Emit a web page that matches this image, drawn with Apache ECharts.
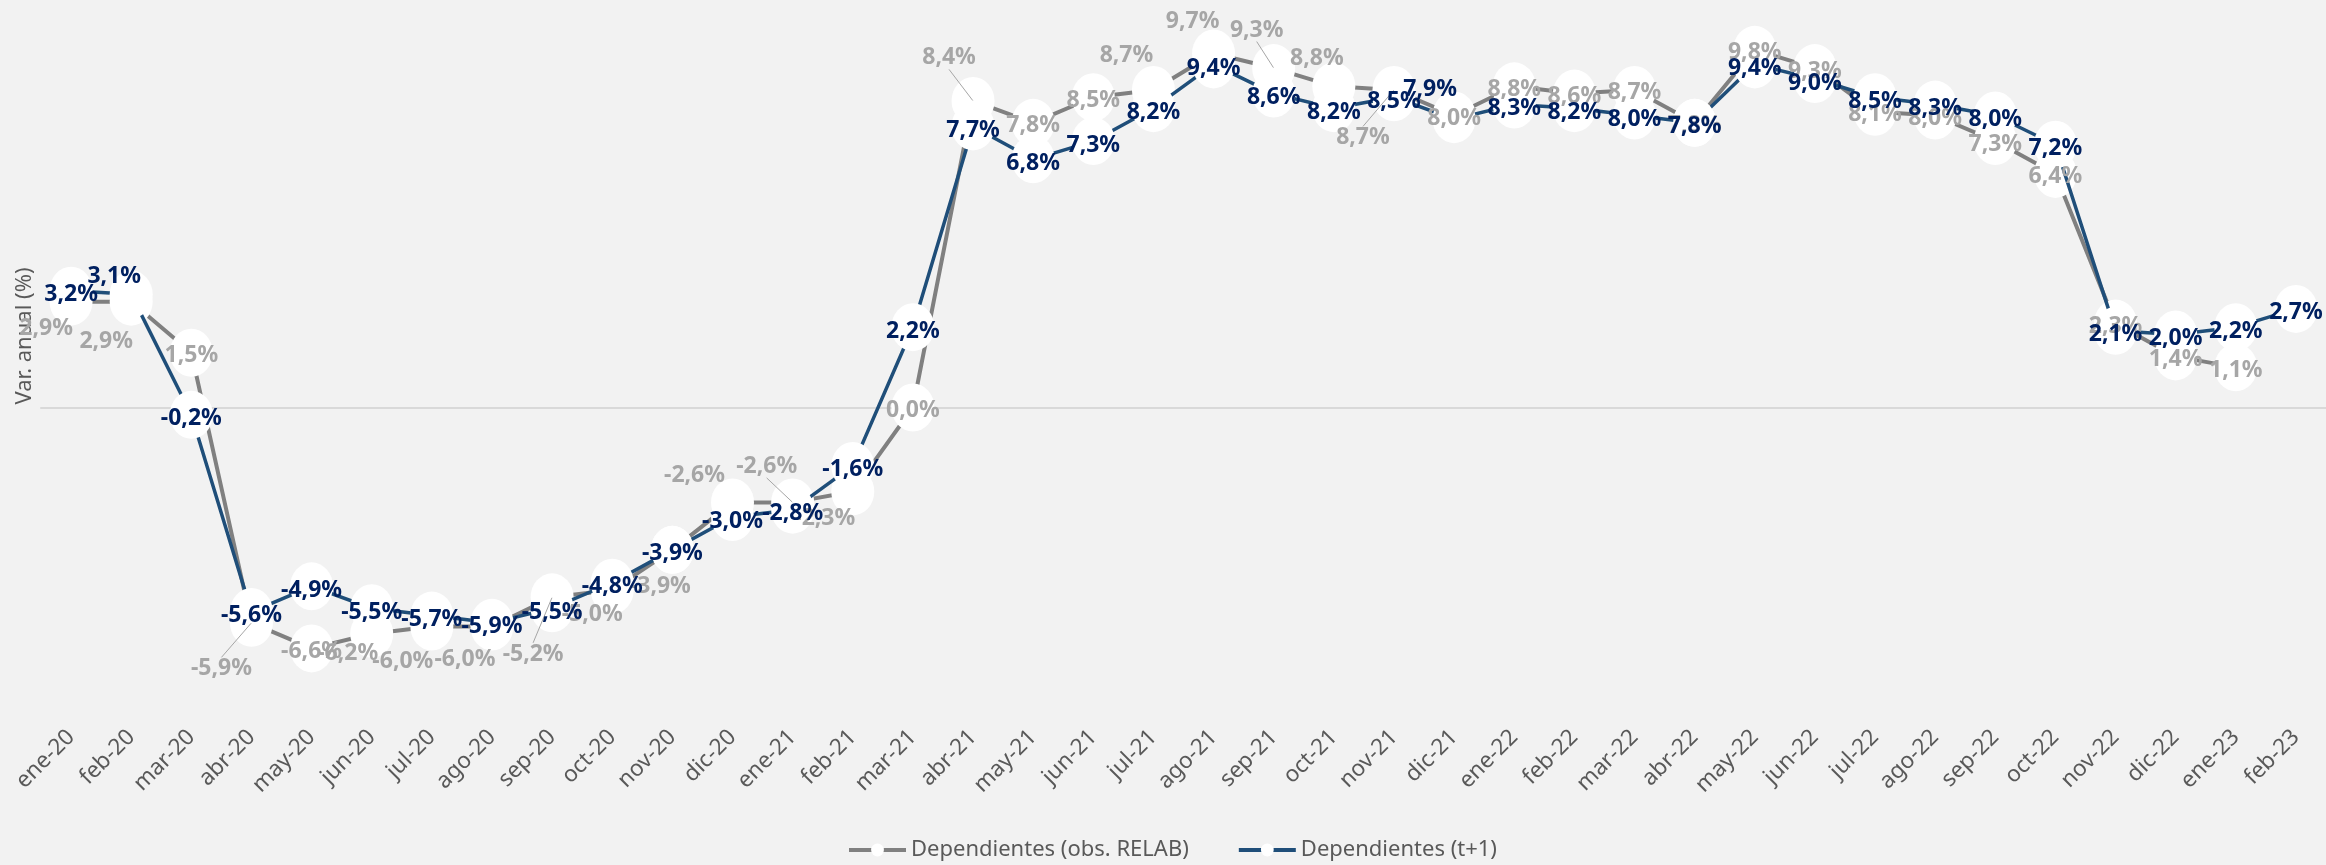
<!DOCTYPE html>
<html lang="es">
<head>
<meta charset="utf-8">
<title>Dependientes - var. anual</title>
<script src="https://cdn.jsdelivr.net/npm/echarts@6/dist/echarts.min.js"></script>
<style>
  html, body { margin: 0; padding: 0; background: #f2f2f2; }
  #chart { width: 2326px; height: 865px; }
</style>
</head>
<body>
<div id="chart"></div>
<script>
// meses
var months = ['ene-20','feb-20','mar-20','abr-20','may-20','jun-20','jul-20','ago-20','sep-20','oct-20','nov-20','dic-20',
              'ene-21','feb-21','mar-21','abr-21','may-21','jun-21','jul-21','ago-21','sep-21','oct-21','nov-21','dic-21',
              'ene-22','feb-22','mar-22','abr-22','may-22','jun-22','jul-22','ago-22','sep-22','oct-22','nov-22','dic-22',
              'ene-23','feb-23'];

// Dependientes (obs. RELAB)
var relab = [2.9, 2.9, 1.5, -5.9, -6.6, -6.2, -6.0, -6.0, -5.2, -5.0, -3.9, -2.6,
             -2.6, -2.3, 0.0, 8.4, 7.8, 8.5, 8.7, 9.7, 9.3, 8.8, 8.7, 8.0,
             8.8, 8.6, 8.7, 7.8, 9.8, 9.3, 8.1, 8.0, 7.3, 6.4, 2.3, 1.4,
             1.1, null];

// Dependientes (t+1)
var forecast = [3.2, 3.1, -0.2, -5.6, -4.9, -5.5, -5.7, -5.9, -5.5, -4.8, -3.9, -3.0,
                -2.8, -1.6, 2.2, 7.7, 6.8, 7.3, 8.2, 9.4, 8.6, 8.2, 8.5, 7.9,
                8.3, 8.2, 8.0, 7.8, 9.4, 9.0, 8.5, 8.3, 8.0, 7.2, 2.1, 2.0,
                2.2, 2.7];

var seriesNames = ['Dependientes (obs. RELAB)', 'Dependientes (t+1)'];

// etiquetas desplazadas a mano (como en el excel)
var relabShift = {0:[-25,27], 1:[-25,40], 3:[-30,46], 5:[-24,20], 6:[-29,35], 7:[-27,33], 8:[-19,57],
                  9:[-20,24], 10:[-12,37], 11:[-38,-27], 12:[-26,-36], 13:[-28,27], 15:[-24,-43],
                  18:[-27,-34], 19:[-21,-32], 20:[-17,-38], 21:[-17,-28], 22:[-31,48]};
var relabLeader = [3, 8, 12, 15, 20, 22];
var forecastShift = {1:[-17,-18], 23:[-24,-30]};

var FONT = '"Noto Sans", "Open Sans", sans-serif';

function fmt(v) {
    return v.toFixed(1).replace('.', ',') + '%';
}

function pointData(values) {
    return values.map(function (v) { return v === null ? '-' : v; });
}

function labelData(values, leaders) {
    return values.map(function (v, i) {
        if (v === null) return '-';
        return { value: v, labelLine: { show: leaders.indexOf(i) >= 0 } };
    });
}

// las etiquetas van en series aparte para quedar encima de todos los marcadores
function labelSeries(name, values, leaders, shift, color, defDy, z) {
    return {
        name: name,
        type: 'scatter',
        z: z,
        silent: true,
        data: labelData(values, leaders),
        symbol: 'circle',
        symbolSize: 1,
        itemStyle: { color: 'rgba(0,0,0,0)', opacity: 1 },
        label: {
            show: true,
            position: 'inside',
            color: color,
            opacity: 1,
            fontSize: 23,
            fontWeight: 'bold',
            fontFamily: FONT,
            formatter: function (p) { return fmt(p.value); }
        },
        labelLine: { show: false, lineStyle: { color: '#a6a6a6', width: 1, opacity: 1 } },
        labelLayout: function (p) {
            var s = shift[p.dataIndex] || [0, defDy];
            return { dx: s[0], dy: s[1] };
        }
    };
}

var myChart = echarts.init(document.getElementById('chart'));

var option = {
    backgroundColor: '#f2f2f2',
    animation: false,
    grid: { left: 41, right: -2, top: 42.5, bottom: 165.5 },
    xAxis: [{
        type: 'category',
        data: months,
        boundaryGap: true,
        axisLine: { show: false, onZero: false },
        axisTick: { show: false },
        axisLabel: { rotate: 45, margin: 34, color: '#595959', fontSize: 22.5, fontFamily: FONT, interval: 0 },
        splitLine: { show: false }
    }, {
        type: 'category',
        data: months,
        position: 'bottom',
        axisLine: { show: true, onZero: true, lineStyle: { color: '#d9d9d9', width: 2 } },
        axisTick: { show: false },
        axisLabel: { show: false }
    }],
    yAxis: {
        type: 'value',
        min: -8,
        max: 10,
        axisLine: { show: false },
        axisTick: { show: false },
        axisLabel: { show: false },
        splitLine: { show: false }
    },
    legend: {
        left: 842,
        top: 834,
        itemWidth: 57,
        itemHeight: 16,
        itemGap: 48,
        lineStyle: { width: 4 },
        textStyle: { color: '#595959', fontSize: 22, fontFamily: FONT },
        data: seriesNames
    },
    graphic: [{
        type: 'text',
        x: 25,
        y: 336,
        rotation: Math.PI / 2,
        style: {
            text: 'Var. anual (%)',
            fill: '#595959',
            fontSize: 22,
            fontFamily: FONT,
            align: 'center',
            verticalAlign: 'middle'
        }
    }],
    series: [{
        name: seriesNames[0],
        type: 'line',
        z: 2,
        data: pointData(relab),
        symbol: 'circle',
        symbolSize: [43, 48],
        itemStyle: { color: '#ffffff' },
        lineStyle: { color: '#808080', width: 4 }
    }, {
        name: seriesNames[1],
        type: 'line',
        z: 3,
        data: pointData(forecast),
        symbol: 'circle',
        symbolSize: [43, 48],
        itemStyle: { color: '#ffffff' },
        lineStyle: { color: '#1f4e79', width: 3.5 }
    },
    labelSeries('etiquetas RELAB', relab, relabLeader, relabShift, '#a6a6a6', 3, 4),
    labelSeries('etiquetas t+1', forecast, [], forecastShift, '#002060', 4, 5)
    ]
};

myChart.setOption(option);
</script>
</body>
</html>
